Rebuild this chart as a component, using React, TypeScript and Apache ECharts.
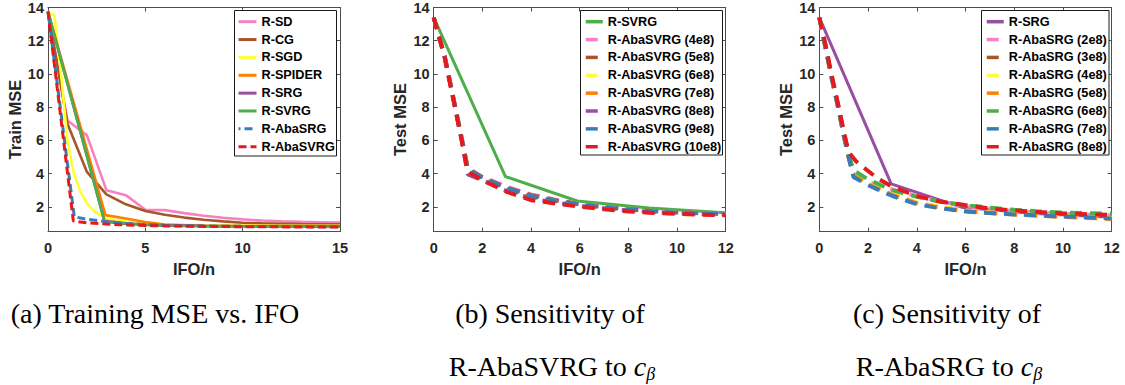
import React, { useEffect, useRef } from "react";
import * as echarts from "echarts";

const SANS = "'Liberation Sans', Arial, Helvetica, sans-serif";
const SERIF = "'Liberation Serif', 'Times New Roman', serif";
const AXIS_COLOR = "#4d4d4d";
const TEXT_COLOR = "#262626";

const PINK = "#F781BF";
const BROWN = "#A65628";
const YELLOW = "#FFFF33";
const ORANGE = "#FF7F00";
const PURPLE = "#984EA3";
const GREEN = "#4DAF4A";
const BLUE = "#377EB8";
const RED = "#E41A1C";

// ---- axes ----
const yTicks = [2, 4, 6, 8, 10, 12, 14];
const yMin = 0.5;
const yMax = 14;
const xMaxA = 15;
const xStepA = 5;
const xMaxBC = 12;
const xStepBC = 2;

// ---- (a) Training MSE vs. IFO ----
const aSdX = [0, 1, 2, 3, 4, 5, 6, 7, 8, 9, 10, 11, 12, 13, 14, 15];
const aSdY = [13.75, 7.2, 6.3, 3.0, 2.7, 1.82, 1.8, 1.62, 1.46, 1.34, 1.24, 1.17, 1.12, 1.09, 1.07, 1.05];
const aCgX = [0, 1, 2, 3, 4, 5, 6, 7, 8, 9, 10, 11, 12, 13, 14, 15];
const aCgY = [13.75, 7.0, 4.1, 2.75, 2.15, 1.75, 1.52, 1.35, 1.22, 1.12, 1.04, 1.0, 0.98, 0.96, 0.95, 0.94];
const aSgdX = [0, 0.33, 0.67, 1, 1.33, 1.67, 2, 2.33, 2.67, 3, 4, 5, 6, 8, 10, 12, 15];
const aSgdY = [13.75, 13.5, 10.0, 6.0, 4.0, 2.9, 2.2, 1.8, 1.5, 1.3, 1.12, 1.02, 0.95, 0.9, 0.87, 0.86, 0.85];
const aSpiderX = [0, 2.95, 4, 5, 6, 7, 8, 10, 12, 15];
const aSpiderY = [13.75, 1.5, 1.3, 1.08, 0.93, 0.88, 0.86, 0.84, 0.83, 0.82];
const aSrgX = [0, 2.9, 4, 5, 6, 8, 10, 15];
const aSrgY = [13.75, 1.15, 1.0, 0.93, 0.88, 0.85, 0.83, 0.82];
const aSvrgX = [0, 2.9, 4, 5, 6, 8, 10, 15];
const aSvrgY = [13.75, 1.1, 0.97, 0.9, 0.86, 0.83, 0.82, 0.81];
const aAbaSrgX = [0, 1.35, 2, 3, 4, 5, 6, 8, 10, 12, 15];
const aAbaSrgY = [13.75, 1.4, 1.25, 1.1, 1.0, 0.93, 0.88, 0.84, 0.82, 0.81, 0.8];
const aAbaSvrgX = [0, 1.3, 2, 3, 4, 5, 6, 8, 10, 12, 15];
const aAbaSvrgY = [13.75, 1.15, 1.03, 0.96, 0.91, 0.87, 0.85, 0.82, 0.8, 0.79, 0.78];

// ---- (b) Sensitivity of R-AbaSVRG ----
const bSvrgX = [0, 2.95, 5.9, 8.85, 11.8, 12];
const bSvrgY = [13.4, 3.82, 2.35, 1.92, 1.66, 1.64];
const bDashX = [0, 0.45, 0.9, 1.15, 1.4, 2, 3, 4, 5, 6, 7, 8, 9, 10, 11, 12];
const b4e8 = [13.4, 11.1, 7.95, 6.2, 4.35, 3.8, 3.2, 2.75, 2.42, 2.18, 2.0, 1.86, 1.75, 1.68, 1.62, 1.58];
const b5e8 = [13.4, 11.1, 7.9, 6.15, 4.3, 3.78, 3.15, 2.7, 2.4, 2.16, 1.98, 1.85, 1.74, 1.67, 1.61, 1.57];
const b6e8 = [13.4, 11.05, 7.85, 6.1, 4.2, 3.72, 3.08, 2.62, 2.35, 2.12, 1.95, 1.82, 1.72, 1.65, 1.59, 1.55];
const b7e8 = [13.4, 11.05, 7.85, 6.05, 4.15, 3.7, 3.05, 2.6, 2.32, 2.1, 1.93, 1.8, 1.7, 1.63, 1.58, 1.54];
const b8e8 = [13.4, 11.0, 7.8, 6.0, 3.95, 3.6, 2.95, 2.5, 2.25, 2.05, 1.9, 1.78, 1.68, 1.62, 1.57, 1.53];
const b9e8 = [13.4, 11.05, 7.9, 6.1, 4.25, 3.75, 3.1, 2.65, 2.37, 2.14, 1.97, 1.84, 1.73, 1.66, 1.6, 1.56];
const b10e8 = [13.4, 11.0, 7.8, 6.0, 4.1, 3.6, 2.9, 2.4, 2.2, 2.0, 1.85, 1.72, 1.63, 1.57, 1.53, 1.49];

// ---- (c) Sensitivity of R-AbaSRG ----
const cSrgX = [0, 2.95, 5.9, 8.85, 11.8, 12];
const cSrgY = [13.4, 3.38, 1.95, 1.6, 1.38, 1.37];
const cDashX = [0, 0.25, 0.5, 0.8, 1.0, 1.2, 1.4, 2, 3, 4, 5, 6, 7, 8, 9, 10, 11, 12];
const c2e8 = [13.4, 11.7, 9.9, 7.9, 6.4, 5.1, 4.0, 3.5, 3.05, 2.65, 2.3, 2.05, 1.88, 1.75, 1.65, 1.58, 1.52, 1.48];
const c3e8 = [13.4, 11.6, 9.8, 7.8, 6.3, 5.0, 3.92, 3.36, 2.74, 2.24, 1.96, 1.77, 1.65, 1.56, 1.49, 1.43, 1.37, 1.31];
const c4e8 = [13.4, 11.6, 9.8, 7.8, 6.3, 5.0, 3.95, 3.38, 2.75, 2.25, 1.97, 1.78, 1.66, 1.57, 1.5, 1.44, 1.38, 1.32];
const c5e8 = [13.4, 11.6, 9.8, 7.8, 6.3, 5.0, 3.9, 3.35, 2.72, 2.22, 1.93, 1.74, 1.62, 1.53, 1.46, 1.39, 1.33, 1.27];
const c6e8 = [13.4, 11.7, 9.9, 7.9, 6.5, 5.2, 4.2, 3.65, 3.0, 2.6, 2.3, 2.1, 1.95, 1.82, 1.72, 1.66, 1.62, 1.58];
const c7e8 = [13.4, 11.6, 9.8, 7.8, 6.3, 5.0, 3.8, 3.3, 2.65, 2.15, 1.9, 1.72, 1.62, 1.54, 1.48, 1.42, 1.37, 1.3];
const cRedX = [0, 0.25, 0.5, 0.8, 1.0, 1.2, 1.5, 1.75, 2.4, 3, 4, 5, 6, 7, 8, 9, 10, 11, 12];
const c8e8 = [13.4, 11.8, 10.0, 8.0, 6.6, 5.3, 4.75, 4.45, 3.7, 3.2, 2.65, 2.3, 2.1, 1.9, 1.78, 1.68, 1.6, 1.55, 1.52];

type Line = { name: string; color: string; x: number[]; y: number[]; dashed?: boolean; offset?: number };

const panelA: Line[] = [
  { name: "R-SD", color: PINK, x: aSdX, y: aSdY },
  { name: "R-CG", color: BROWN, x: aCgX, y: aCgY },
  { name: "R-SGD", color: YELLOW, x: aSgdX, y: aSgdY },
  { name: "R-SPIDER", color: ORANGE, x: aSpiderX, y: aSpiderY },
  { name: "R-SRG", color: PURPLE, x: aSrgX, y: aSrgY },
  { name: "R-SVRG", color: GREEN, x: aSvrgX, y: aSvrgY },
  { name: "R-AbaSRG", color: BLUE, x: aAbaSrgX, y: aAbaSrgY, dashed: true, offset: 6 },
  { name: "R-AbaSVRG", color: RED, x: aAbaSvrgX, y: aAbaSvrgY, dashed: true, offset: 0 },
];

const panelB: Line[] = [
  { name: "R-SVRG", color: GREEN, x: bSvrgX, y: bSvrgY },
  { name: "R-AbaSVRG (4e8)", color: PINK, x: bDashX, y: b4e8, dashed: true },
  { name: "R-AbaSVRG (5e8)", color: BROWN, x: bDashX, y: b5e8, dashed: true },
  { name: "R-AbaSVRG (6e8)", color: YELLOW, x: bDashX, y: b6e8, dashed: true },
  { name: "R-AbaSVRG (7e8)", color: ORANGE, x: bDashX, y: b7e8, dashed: true },
  { name: "R-AbaSVRG (8e8)", color: PURPLE, x: bDashX, y: b8e8, dashed: true },
  { name: "R-AbaSVRG (9e8)", color: BLUE, x: bDashX, y: b9e8, dashed: true },
  { name: "R-AbaSVRG (10e8)", color: RED, x: bDashX, y: b10e8, dashed: true },
];

const panelC: Line[] = [
  { name: "R-SRG", color: PURPLE, x: cSrgX, y: cSrgY },
  { name: "R-AbaSRG (2e8)", color: PINK, x: cDashX, y: c2e8, dashed: true },
  { name: "R-AbaSRG (3e8)", color: BROWN, x: cDashX, y: c3e8, dashed: true },
  { name: "R-AbaSRG (4e8)", color: YELLOW, x: cDashX, y: c4e8, dashed: true },
  { name: "R-AbaSRG (5e8)", color: ORANGE, x: cDashX, y: c5e8, dashed: true },
  { name: "R-AbaSRG (6e8)", color: GREEN, x: cDashX, y: c6e8, dashed: true },
  { name: "R-AbaSRG (7e8)", color: BLUE, x: cDashX, y: c7e8, dashed: true },
  { name: "R-AbaSRG (8e8)", color: RED, x: cRedX, y: c8e8, dashed: true },
];

const zip = (xs: number[], ys: number[]) => xs.map((x, i) => [x, ys[i]]);

const grids = [
  { left: 48, top: 6.7, width: 292, height: 225 },
  { left: 433.7, top: 6.7, width: 292, height: 225 },
  { left: 819.3, top: 6.7, width: 292.4, height: 225 },
];

const tickLabel = { fontFamily: SANS, fontWeight: "bold" as const, fontSize: 14.5, color: TEXT_COLOR };
const nameStyle = { fontFamily: SANS, fontWeight: "bold" as const, fontSize: 16.5, color: TEXT_COLOR };

function xAxes(g: number, max: number, step: number) {
  const common = {
    gridIndex: g,
    type: "value" as const,
    min: 0,
    max,
    interval: step,
    splitLine: { show: false },
    axisLine: { show: true, onZero: false, lineStyle: { color: AXIS_COLOR, width: 1 } },
    axisTick: { show: true, inside: true, length: 4, lineStyle: { color: AXIS_COLOR, width: 1 } },
  };
  return [
    {
      ...common,
      position: "bottom",
      axisLabel: { ...tickLabel, margin: 9 },
      name: "IFO/n",
      nameLocation: "middle",
      nameGap: 28,
      nameTextStyle: nameStyle,
    },
    { ...common, position: "top", axisLabel: { show: false } },
  ];
}

function yAxes(g: number, name: string) {
  const common = {
    gridIndex: g,
    type: "value" as const,
    min: yMin,
    max: yMax,
    splitLine: { show: false },
    axisLine: { show: true, onZero: false, lineStyle: { color: AXIS_COLOR, width: 1 } },
    axisTick: { show: true, inside: true, length: 4, customValues: yTicks, lineStyle: { color: AXIS_COLOR, width: 1 } },
  };
  return [
    {
      ...common,
      position: "left",
      axisLabel: { ...tickLabel, margin: 4, customValues: yTicks },
      name,
      nameLocation: "middle",
      nameGap: 25,
      nameTextStyle: nameStyle,
    },
    { ...common, position: "right", axisLabel: { show: false } },
  ];
}

function seriesFor(g: number, lines: Line[], solidW: number, dashW: number, dash: number[]) {
  return lines.map((l) => ({
    type: "line",
    name: l.name,
    xAxisIndex: g * 2,
    yAxisIndex: g * 2,
    data: zip(l.x, l.y),
    symbol: "none",
    showSymbol: false,
    clip: true,
    z: 2,
    itemStyle: { color: l.color },
    lineStyle: {
      color: l.color,
      width: l.dashed ? dashW : solidW,
      type: l.dashed ? dash : "solid",
      dashOffset: l.offset || 0,
      cap: "butt",
    },
    emphasis: { disabled: true },
  }));
}

function legendFor(lines: Line[], left: number, itemWidth: number, lineW: number) {
  return {
    orient: "vertical",
    left,
    top: 14.7,
    padding: 0,
    itemWidth,
    itemHeight: 14,
    itemGap: 3.86,
    selectedMode: false,
    z: 5,
    data: lines.map((l) => l.name),
    itemStyle: { opacity: 0 },
    lineStyle: { width: lineW },
    textStyle: { fontFamily: SANS, fontWeight: "bold", fontSize: 12.7, color: "#000", lineHeight: 14 },
  };
}

const captionRich = {
  n: { fontFamily: SERIF, fontSize: 28, lineHeight: 34, fill: "#000", color: "#000" },
  i: { fontFamily: SERIF, fontSize: 28, lineHeight: 34, fontStyle: "italic", color: "#000" },
  s: { fontFamily: SERIF, fontSize: 18, lineHeight: 18, fontStyle: "italic", verticalAlign: "bottom", color: "#000" },
};

function caption(text: string, x: number, y: number) {
  return {
    type: "text",
    x,
    y,
    z: 3,
    style: {
      text,
      fontFamily: SERIF,
      fontSize: 28,
      fill: "#000",
      align: "center",
      verticalAlign: "middle",
      rich: captionRich,
    },
  };
}

function legendBox(x: number, y: number, w: number, h: number) {
  return {
    type: "rect",
    z: 3,
    shape: { x, y, width: w, height: h },
    style: { fill: "#fff", stroke: "#1a1a1a", lineWidth: 1 },
  };
}

export default function App() {
  const ref = useRef<HTMLDivElement>(null);
  useEffect(() => {
    if (!ref.current) return;
    const chart = echarts.init(ref.current, undefined, { renderer: "svg" });
    const option: any = {
      animation: false,
      backgroundColor: "#fff",
      grid: grids,
      xAxis: [...xAxes(0, xMaxA, xStepA), ...xAxes(1, xMaxBC, xStepBC), ...xAxes(2, xMaxBC, xStepBC)],
      yAxis: [...yAxes(0, "Train MSE"), ...yAxes(1, "Test MSE"), ...yAxes(2, "Test MSE")],
      legend: [
        legendFor(panelA, 237, 18, 3),
        legendFor(panelB, 584, 17, 3.5),
        legendFor(panelC, 985, 17, 3.5),
      ],
      series: [
        ...seriesFor(0, panelA, 2.6, 3, [8, 4]),
        ...seriesFor(1, panelB, 3, 4, [12, 8]),
        ...seriesFor(2, panelC, 3, 4, [12, 8]),
      ],
      graphic: {
        elements: [
          legendBox(234.5, 10.5, 102, 145.5),
          legendBox(580.5, 10.5, 142, 144.5),
          legendBox(981.5, 10.5, 127.5, 144.5),
          caption("{n|(a) Training MSE vs. IFO}", 155, 313),
          caption("{n|(b) Sensitivity of}", 550, 313),
          caption("{n|R-AbaSVRG to }{i|c}{s|β}", 552, 366),
          caption("{n|(c) Sensitivity of}", 947, 313),
          caption("{n|R-AbaSRG to }{i|c}{s|β}", 949, 366),
        ],
      },
    };
    chart.setOption(option);
    return () => chart.dispose();
  }, []);
  return (
    <div
      ref={ref}
      style={{ position: "absolute", left: 0, top: 0, width: 1125, height: 385, background: "#fff" }}
    />
  );
}
